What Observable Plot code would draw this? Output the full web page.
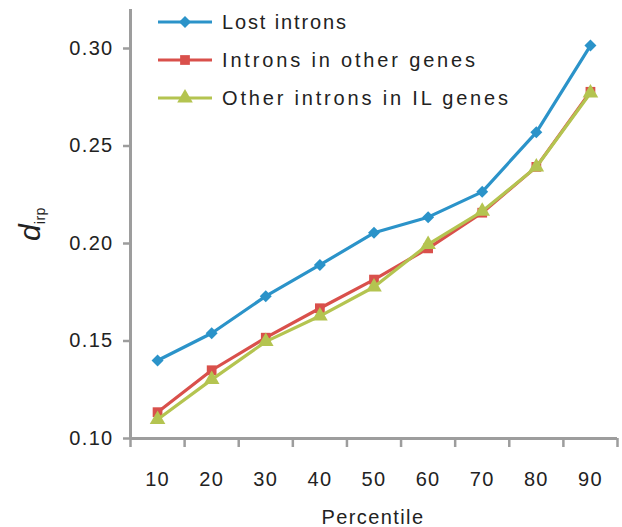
<!DOCTYPE html>
<html>
<head>
<meta charset="utf-8">
<script src="https://cdn.jsdelivr.net/npm/d3@7"></script>
<script src="https://cdn.jsdelivr.net/npm/@observablehq/plot@0.6"></script>
<style>
  html, body { margin: 0; padding: 0; background: #fff; }
  #chart { position: relative; width: 622px; height: 527px; }
</style>
</head>
<body>
<div id="chart"></div>
<script>
const percentiles = [10, 20, 30, 40, 50, 60, 70, 80, 90];
const seriesNames = ["Lost introns", "Introns in other genes", "Other introns in IL genes"];
const lostIntrons = [0.140, 0.154, 0.173, 0.189, 0.2055, 0.2135, 0.2265, 0.257, 0.3015];
const otherGenes = [0.1135, 0.135, 0.1517, 0.1668, 0.1815, 0.1975, 0.2158, 0.2393, 0.2778];
const ilGenes = [0.1097, 0.1302, 0.1497, 0.1628, 0.1777, 0.1995, 0.2165, 0.2392, 0.2772];
const yTicks = [0.10, 0.15, 0.20, 0.25, 0.30];
const xBoundaries = [5, 15, 25, 35, 45, 55, 65, 75, 85, 95];

// styling
const colors = ["#2b93c9", "#d9504b", "#b4c450"];
const symbols = ["diamond2", "square", "triangle"];
const radii = [5.4, 5.5, 5.8];
const legendTextWidths = [124, 253, 286];
const valuesBySeries = [lostIntrons, otherGenes, ilGenes];

const data = [];
seriesNames.forEach((s, i) => percentiles.forEach((p, j) => data.push({series: s, p, v: valuesBySeries[i][j]})));

const axisGray = "#9d9d9d";
const font = "'Liberation Sans', Arial, Helvetica, sans-serif";

const lineMarks = [];
seriesNames.forEach((s, i) => {
  const d = data.filter(r => r.series === s);
  lineMarks.push(Plot.line(d, {x: "p", y: "v", stroke: colors[i], strokeWidth: 3.2}));
  lineMarks.push(Plot.dot(d, {x: "p", y: "v", fill: colors[i], stroke: "none", symbol: () => symbols[i], r: radii[i]}));
});

const plot = Plot.plot({
  width: 622,
  height: 527,
  marginLeft: 130,
  marginRight: 5,
  marginTop: 9,
  marginBottom: 89,
  style: {fontFamily: font, fontSize: "20px", color: "#222", letterSpacing: "1.3px", background: "#fff"},
  x: {domain: [5, 95]},
  y: {domain: [0.10, 0.32]},
  marks: [
    Plot.axisX(xBoundaries, {tickSize: 9, tickFormat: () => "", stroke: axisGray, strokeWidth: 2.5, label: null}),
    Plot.axisX(percentiles, {tickSize: 0, tickPadding: 33, label: null, fill: "#222"}),
    Plot.axisY(yTicks, {tickSize: 7, tickPadding: 10, tickFormat: d3.format(".2f"), stroke: axisGray, strokeWidth: 2.5, label: null, fill: "#222"}),
    Plot.ruleY([0.10], {stroke: axisGray, strokeWidth: 3}),
    Plot.ruleX([5], {stroke: axisGray, strokeWidth: 3}),
    ...lineMarks
  ]
});

document.getElementById("chart").appendChild(plot);

const svg = d3.select(plot);

// Axis title
svg.append("text")
  .attr("x", 373).attr("y", 524)
  .attr("text-anchor", "middle")
  .attr("fill", "#222")
  .style("font-family", font).style("font-size", "20px").style("letter-spacing", "1.4px")
  .text("Percentile");

// y label: d_irp
const yl = svg.append("text")
  .attr("transform", "translate(40,224) rotate(-90)")
  .attr("text-anchor", "middle")
  .attr("fill", "#222")
  .style("font-family", font);
yl.append("tspan").style("font-style", "italic").style("font-size", "30px").style("letter-spacing", "0").text("d");
yl.append("tspan").attr("dy", 5).style("font-size", "14px").style("letter-spacing", "0.5px").text("irp");

// Legend
const legend = svg.append("g");
const rows = [22, 60, 98];
const symMap = {diamond2: d3.symbolDiamond2, square: d3.symbolSquare, triangle: d3.symbolTriangle};
seriesNames.forEach((s, i) => {
  const g = legend.append("g").attr("transform", `translate(0,${rows[i]})`);
  g.append("line").attr("x1", 158).attr("x2", 212).attr("y1", 0).attr("y2", 0)
    .attr("stroke", colors[i]).attr("stroke-width", 3.2);
  g.append("path").attr("transform", "translate(185,0)")
    .attr("d", d3.symbol(symMap[symbols[i]], Math.PI * radii[i] * radii[i])())
    .attr("fill", colors[i]);
  g.append("text").attr("x", 222).attr("y", 0).attr("dy", "0.36em")
    .attr("text-anchor", "start")
    .attr("fill", "#222")
    .attr("textLength", legendTextWidths[i])
    .attr("lengthAdjust", "spacing")
    .style("font-family", font).style("font-size", "20px").style("letter-spacing", "0")
    .text(s);
});
</script>
</body>
</html>
